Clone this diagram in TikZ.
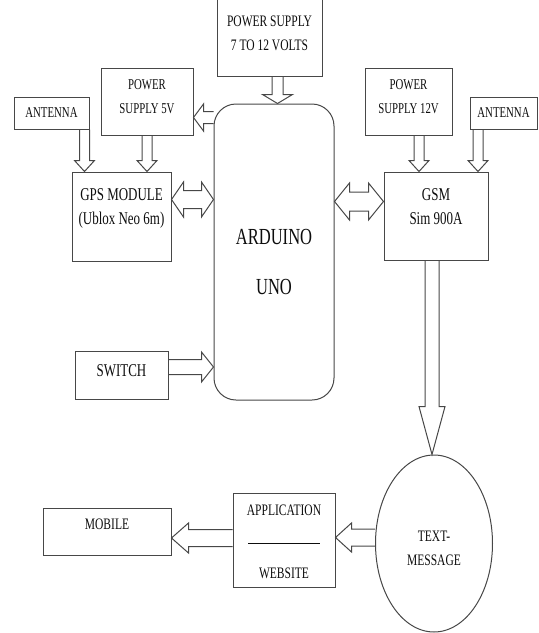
\documentclass[tikz,border=0pt]{standalone}
\usepackage{fontspec}
\setmainfont{Liberation Serif}[FakeStretch=0.72]
\usetikzlibrary{calc, shapes.geometric}

\colorlet{linec}{black!72}
\colorlet{textc}{black!95}

\tikzset{
  ashaft/.store in=\ashaft, ahead/.store in=\ahead, atip/.store in=\atip,
  ashaft=5pt, ahead=10pt, atip=11pt,
  % hollow block arrow, one head
  harrow/.style={draw=linec, line width=1pt, to path={
    ($(\tikztotarget)!\atip!(\tikztostart)$) coordinate (hc)
    ($(\tikztostart)!\ashaft!90:(\tikztotarget)$)
    -- ($(hc)!\ashaft!90:(\tikztotarget)$)
    -- ($(hc)!\ahead!90:(\tikztotarget)$)
    -- (\tikztotarget)
    -- ($(hc)!\ahead!-90:(\tikztotarget)$)
    -- ($(hc)!\ashaft!-90:(\tikztotarget)$)
    -- ($(\tikztostart)!\ashaft!-90:(\tikztotarget)$)}},
  % hollow block arrow, two heads
  hboth/.style={draw=linec, line width=1pt, to path={
    ($(\tikztostart)!\atip!(\tikztotarget)$) coordinate (ha)
    ($(\tikztotarget)!\atip!(\tikztostart)$) coordinate (hb)
    (\tikztostart)
    -- ($(ha)!\ahead!90:(\tikztotarget)$)
    -- ($(ha)!\ashaft!90:(\tikztotarget)$)
    -- ($(hb)!\ashaft!90:(\tikztotarget)$)
    -- ($(hb)!\ahead!90:(\tikztotarget)$)
    -- (\tikztotarget)
    -- ($(hb)!\ahead!-90:(\tikztotarget)$)
    -- ($(hb)!\ashaft!-90:(\tikztotarget)$)
    -- ($(ha)!\ashaft!-90:(\tikztotarget)$)
    -- ($(ha)!\ahead!-90:(\tikztotarget)$)
    -- cycle}},
}

\begin{document}
\begin{tikzpicture}[x=1pt, y=-1pt,
  box/.style={draw=linec, line width=1pt, inner sep=0pt, align=center, text=textc,
    font=\fontsize{16}{24}\selectfont},
  small/.style={font=\fontsize{15}{24}\selectfont},
  big/.style={font=\fontsize{18}{24}\selectfont},
  board/.style={box, rounded corners=22pt, font=\fontsize{23}{50}\selectfont},
  oval/.style={box, ellipse}
]
\useasboundingbox (0,0) rectangle (539,633);

\node[box, minimum width=105pt, minimum height=84pt, text height=36pt, text depth=3pt] (ps7) at (269.5,34) {POWER SUPPLY\\7 TO 12 VOLTS};
\node[box, small, minimum width=92pt, minimum height=67pt, text height=27pt, text depth=4pt] (ps5) at (147,101.5) {POWER\\SUPPLY 5V};
\node[box, small, minimum width=75pt, minimum height=32pt, text height=10pt, text depth=1pt] (antL) at (51.5,113) {ANTENNA};
\node[box, big, minimum width=99pt, minimum height=89pt, text height=25pt, text depth=10pt] (gps) at (121.5,216.5) {GPS MODULE\\(Ublox Neo 6m)};
\node[board, minimum width=120pt, minimum height=296pt, text height=85pt, text depth=0pt] (ard) at (274,252) {ARDUINO\\UNO};
\node[box, small, minimum width=87pt, minimum height=67pt, text height=27pt, text depth=4pt] (ps12) at (408.5,101.5) {POWER\\SUPPLY 12V};
\node[box, small, minimum width=67pt, minimum height=32pt, text height=10pt, text depth=1pt] (antR) at (503.5,113) {ANTENNA};
\node[box, big, minimum width=104pt, minimum height=88pt, text height=26pt, text depth=10pt] (gsm) at (436,216) {GSM\\Sim 900A};
\node[box, big, minimum width=93pt, minimum height=48pt, text height=12pt, text depth=10pt] (sw) at (121.5,375) {SWITCH};
\node[oval, minimum width=117pt, minimum height=177pt, text height=44pt, text depth=0pt] (txt) at (434,543.5) {TEXT-\\MESSAGE};
\node[box, minimum width=102pt, minimum height=94pt, text height=80pt, text depth=3pt] (app) at (284,540) {APPLICATION\\[4pt]\rule{72pt}{1pt}\\[11pt]WEBSITE};
\node[box, minimum width=128pt, minimum height=47pt, text height=11pt, text depth=15pt] (mob) at (107,531.5) {MOBILE};

\coordinate (p7out) at ($(ps7.south)+(8,0)$);
\coordinate (p5in) at ($(ps5.east)+(0,16)$);
\coordinate (a1) at ($(antL.south east)+(-5,0)$);
\coordinate (a2) at ($(antR.south west)+(8.5,0)$);
\coordinate (p12) at ($(ps12.south)+(10.5,0)$);
\coordinate (g1) at ($(gps.east)+(0,-17)$);
\coordinate (g2) at ($(gsm.west)+(0,-14.5)$);
\coordinate (s1) at ($(sw.east)+(0,-8)$);
\coordinate (g3) at ($(gsm.south)+(-4,0)$);
\coordinate (t1) at ($(app.east)+(0,-2.5)$);
\coordinate (m1) at ($(mob.east)+(0,6.5)$);

\draw[harrow, ashaft=5.5pt, ahead=15pt, atip=9pt] (p7out) to (p7out |- ard.north);
\draw[harrow, ashaft=6pt, ahead=13.5pt, atip=10pt] (ard.west |- p5in) to (p5in);
\draw[harrow] (a1) to (a1 |- gps.north);
\draw[harrow] (ps5.south) to (ps5.south |- gps.north);
\draw[harrow] (p12) to (p12 |- gsm.north);
\draw[harrow] (a2) to (a2 |- gsm.north);
\draw[hboth, ashaft=9pt, ahead=17.5pt, atip=12pt] (g1) to (g1 -| ard.west);
\draw[hboth, ashaft=9.5pt, ahead=18.5pt, atip=15pt] (g2 -| ard.east) to (g2);
\draw[harrow, ashaft=7.5pt, ahead=15pt, atip=12pt] (s1) to (s1 -| ard.west);
\draw[harrow, ashaft=7pt, ahead=13pt, atip=48pt] (g3) to (g3 |- txt.north);
\draw[harrow, ashaft=8.5pt, ahead=14.5pt, atip=16pt] (t1 -| txt.west) to (t1);
\draw[harrow, ashaft=8.5pt, ahead=15pt, atip=17pt] (m1 -| app.west) to (m1);
\end{tikzpicture}
\end{document}
